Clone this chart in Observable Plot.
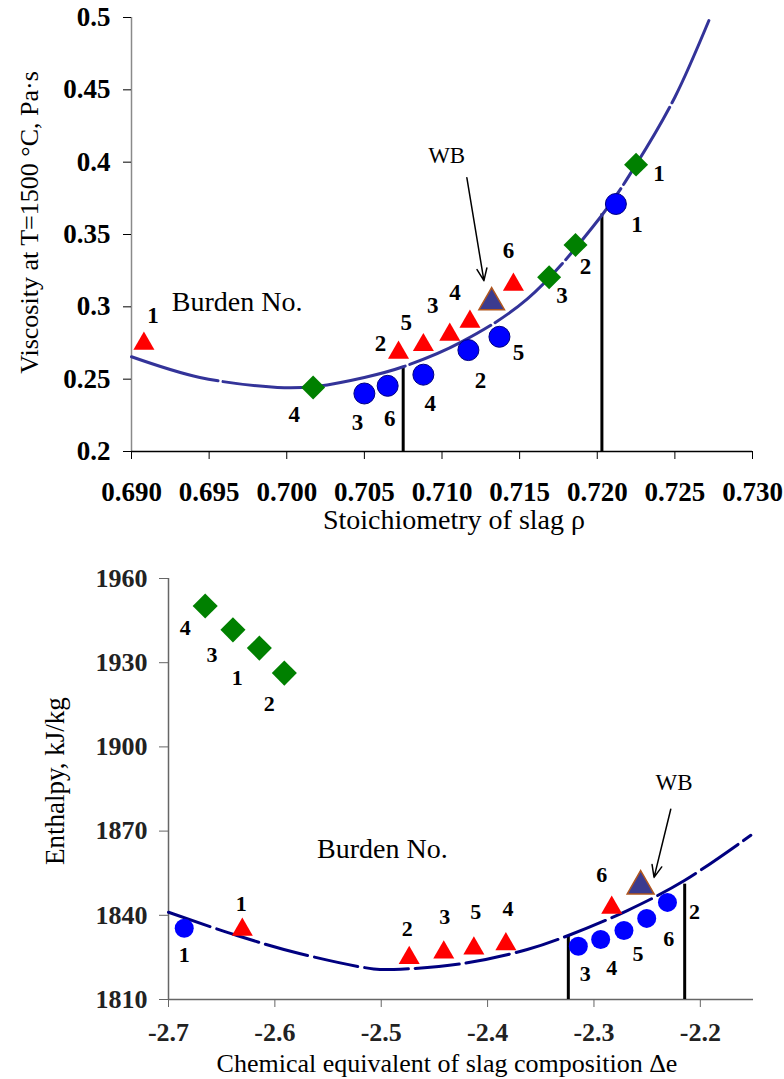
<!DOCTYPE html>
<html>
<head>
<meta charset="utf-8">
<script src="https://cdn.jsdelivr.net/npm/d3@7"></script>
<script src="https://cdn.jsdelivr.net/npm/@observablehq/plot@0.6"></script>
<style>
  html, body { margin: 0; padding: 0; background: #fff; }
  #chart { width: 784px; }
  #chart svg { display: block; }
</style>
</head>
<body>
<div id="chart"></div>
<script>
// ================= TOP PANEL: viscosity vs stoichiometry of slag =================
const vXTicks = [0.690, 0.695, 0.700, 0.705, 0.710, 0.715, 0.720, 0.725, 0.730];
const vXTickLabels = ["0.690", "0.695", "0.700", "0.705", "0.710", "0.715", "0.720", "0.725", "0.730"];
const vYTicks = [0.2, 0.25, 0.3, 0.35, 0.4, 0.45, 0.5];
const vYTickLabels = ["0.2", "0.25", "0.3", "0.35", "0.4", "0.45", "0.5"];

// red triangles
const vTriNo   = ["1", "2", "5", "3", "4", "6"];
const vTriRho  = [0.6908, 0.7072, 0.7088, 0.7105, 0.7118, 0.7146];
const vTriVisc = [0.2745, 0.2683, 0.2736, 0.2807, 0.2897, 0.3153];
// blue circles
const vCirNo   = ["3", "6", "4", "2", "5", "1"];
const vCirRho  = [0.7050, 0.7065, 0.7088, 0.7117, 0.7137, 0.7212];
const vCirVisc = [0.2401, 0.2454, 0.2531, 0.2701, 0.2793, 0.3711];
// green diamonds
const vDiaNo   = ["4", "3", "2", "1"];
const vDiaRho  = [0.7017, 0.7169, 0.7186, 0.7225];
const vDiaVisc = [0.2443, 0.3204, 0.3428, 0.3983];
// working burden (WB)
const vWBRho  = [0.7132];
const vWBVisc = [0.3031];
// fitted trend curve
const vFitRho  = [0.6900, 0.6944, 0.6994, 0.7017, 0.7050, 0.7075, 0.7112, 0.7155, 0.7202, 0.7225, 0.7250, 0.7273];
const vFitVisc = [0.2655, 0.2512, 0.2443, 0.2448, 0.2512, 0.2586, 0.2754, 0.3055, 0.3619, 0.3983, 0.4449, 0.5007];
// vertical range lines
const vVLineRho  = [0.7075, 0.7203];
const vVLineTop  = [0.2586, 0.3642];
// annotation anchors (data units)
const vWBText   = [0.7103, 0.4045];
const vWBArrow  = [0.7116, 0.3893, 0.7127, 0.3181];
const vBurden   = [0.6926, 0.3031];

// ================= BOTTOM PANEL: enthalpy vs chemical equivalent =================
const eXTicks = [-2.7, -2.6, -2.5, -2.4, -2.3, -2.2];
const eXTickLabels = ["-2.7", "-2.6", "-2.5", "-2.4", "-2.3", "-2.2"];
const eYTicks = [1810, 1840, 1870, 1900, 1930, 1960];
const eYTickLabels = ["1810", "1840", "1870", "1900", "1930", "1960"];

const eTriNo = ["1", "2", "3", "5", "4", "6"];
const eTriDe = [-2.6306, -2.4737, -2.4412, -2.4129, -2.3828, -2.2833];
const eTriH  = [1834.9, 1824.8, 1826.8, 1828.2, 1829.7, 1842.7];
const eCirNo = ["1", "3", "4", "5", "6", "2"];
const eCirDe = [-2.6852, -2.3147, -2.2937, -2.2718, -2.2504, -2.2309];
const eCirH  = [1835.4, 1829.0, 1831.4, 1834.6, 1838.9, 1844.6];
const eDiaNo = ["4", "3", "1", "2"];
const eDiaDe = [-2.6655, -2.6394, -2.6146, -2.5911];
const eDiaH  = [1950.2, 1941.7, 1935.2, 1926.3];
const eWBDe = [-2.2561];
const eWBH  = [1850.4];
const eFitDe = [-2.7000, -2.6356, -2.5760, -2.5071, -2.4882, -2.4255, -2.3627, -2.3241, -2.2686, -2.2153, -2.1525];
const eFitH  = [1841.1, 1832.8, 1826.3, 1820.9, 1820.7, 1822.7, 1827.8, 1832.8, 1841.7, 1852.3, 1868.5];
const eVLineDe  = [-2.3241, -2.2147];
const eVLineTop = [1832.8, 1851.1];
const eWBText  = [-2.2247, 1887.4];
const eWBArrow = [-2.2278, 1877.8, -2.2435, 1853.5];
const eBurden  = [-2.5603, 1863.6];

// ================= styles =================
const serif = "Liberation Serif, Times New Roman, serif";
const RED = "#ff0000", BLUE = "#0000ff", GREEN = "#008000";

// label offsets (pixels) for the burden numbers
const vTriOff = [[9,-28],[-18,-9],[-17,-22],[-17,-29],[-15,-29],[-5,-34]];
const vCirOff = [[-7,29],[2,33],[7,29],[12,31],[19,16],[21,21]];
const vDiaOff = [[-19,27],[13,18],[10,22],[23,9]];
const eTriOff = [[-1,-26],[-2,-29],[1,-35],[2,-36],[2,-35],[-10,-33]];
const eCirOff = [[0,27],[7,28],[11,29],[14,23],[22,21],[27,10]];
const eDiaOff = [[-20,22],[-21,25],[-22,30],[-15,31]];

function rows(xs, ys) { return xs.map((x, i) => ({x, y: ys[i]})); }

function numberLabels(xs, ys, names, offs, size) {
  return names.map((t, i) => Plot.text([t], {
    x: () => xs[i], y: () => ys[i], text: d => d,
    dx: offs[i][0], dy: offs[i][1],
    fontFamily: serif, fontWeight: "bold", fontSize: size, fill: "black"
  }));
}

function lookup(ticks, labels) {
  const m = new Map(ticks.map((t, i) => [t, labels[i]]));
  return d => m.get(d);
}

function title(str, opts) {
  return Plot.text([str], {text: d => d, textAnchor: "middle", lineAnchor: "middle",
    fontFamily: serif, fill: "black", ...opts});
}

// ---------------- top plot ----------------
const topPlot = Plot.plot({
  width: 784, height: 535,
  marginLeft: 131, marginRight: 32, marginTop: 17, marginBottom: 84,
  x: {domain: [0.690, 0.730]},
  y: {domain: [0.2, 0.5]},
  style: {fontFamily: serif, background: "#fff", color: "black", overflow: "visible"},
  marks: [
    Plot.ruleX([0.690], {stroke: "#8a8a8a", strokeWidth: 1.5}),
    Plot.ruleY([0.2], {stroke: "#000", strokeWidth: 1.3}),
    Plot.axisX(vXTicks, {tickSize: 8, tickPadding: 22, tickFormat: lookup(vXTicks, vXTickLabels),
      fontFamily: serif, fontWeight: "bold", fontSize: 27, label: null, color: "black"}),
    Plot.axisY(vYTicks, {tickSize: 8, tickPadding: 13, tickFormat: lookup(vYTicks, vYTickLabels),
      fontFamily: serif, fontWeight: "bold", fontSize: 27, label: null, color: "black"}),
    Plot.ruleX(rows(vVLineRho, vVLineTop), {x: "x", y1: () => 0.2, y2: "y", stroke: "black", strokeWidth: 3}),
    Plot.line(rows(vFitRho, vFitVisc), {x: "x", y: "y", curve: "catmull-rom", stroke: "#333399",
      strokeWidth: 3, strokeDasharray: "90,5"}),
    Plot.dot(rows(vCirRho, vCirVisc), {x: "x", y: "y", symbol: "circle", r: 10.5, fill: BLUE, stroke: "#000080", strokeWidth: 1}),
    Plot.dot(rows(vDiaRho, vDiaVisc), {x: "x", y: "y", symbol: "diamond2", r: 10.8, fill: GREEN}),
    Plot.dot(rows(vTriRho, vTriVisc), {x: "x", y: "y", symbol: "triangle", r: 7.8, fill: RED}),
    Plot.dot(rows(vWBRho, vWBVisc), {x: "x", y: "y", symbol: "triangle", r: 9.5, fill: "#3b3b8f", stroke: "#b0561e", strokeWidth: 1.5}),
    ...numberLabels(vTriRho, vTriVisc, vTriNo, vTriOff, 23),
    ...numberLabels(vCirRho, vCirVisc, vCirNo, vCirOff, 23),
    ...numberLabels(vDiaRho, vDiaVisc, vDiaNo, vDiaOff, 23),
    Plot.text(["WB"], {x: () => vWBText[0], y: () => vWBText[1], text: d => d, fontFamily: serif, fontSize: 23, fill: "black"}),
    Plot.arrow([vWBArrow], {x1: d => d[0], y1: d => d[1], x2: d => d[2], y2: d => d[3],
      stroke: "black", strokeWidth: 1.5, headLength: 13, headAngle: 45}),
    Plot.text(["Burden No."], {x: () => vBurden[0], y: () => vBurden[1], text: d => d, textAnchor: "start",
      fontFamily: serif, fontSize: 28, fill: "black"}),
    title("Stoichiometry of slag ρ", {frameAnchor: "bottom", dx: 12, dy: 69, fontSize: 28}),
    title("Viscosity at T=1500 °C, Pa·s", {frameAnchor: "left", rotate: -90, dx: -102, dy: -12, fontSize: 26})
  ]
});

// ---------------- bottom plot ----------------
const bottomPlot = Plot.plot({
  width: 784, height: 544,
  marginLeft: 168, marginRight: 31, marginTop: 43, marginBottom: 80,
  x: {domain: [-2.7, -2.15]},
  y: {domain: [1810, 1960]},
  style: {fontFamily: serif, background: "#fff", color: "black", overflow: "visible"},
  marks: [
    Plot.ruleX([-2.7], {stroke: "#666", strokeWidth: 1.5}),
    Plot.ruleY([1810], {stroke: "#666", strokeWidth: 1.5}),
    Plot.axisX(eXTicks, {tickSize: 8, tickPadding: 15, tickFormat: lookup(eXTicks, eXTickLabels),
      fontFamily: serif, fontWeight: "bold", fontSize: 26, label: null, color: "#222", stroke: "#666"}),
    Plot.axisY(eYTicks, {tickSize: 9, tickPadding: 12, tickFormat: lookup(eYTicks, eYTickLabels),
      fontFamily: serif, fontWeight: "bold", fontSize: 26, label: null, color: "#222", stroke: "#666"}),
    Plot.ruleX(rows(eVLineDe, eVLineTop), {x: "x", y1: () => 1810, y2: "y", stroke: "black", strokeWidth: 3}),
    Plot.line(rows(eFitDe, eFitH), {x: "x", y: "y", curve: "catmull-rom", stroke: "#000080",
      strokeWidth: 3, strokeDasharray: "44,7"}),
    Plot.dot(rows(eCirDe, eCirH), {x: "x", y: "y", symbol: "circle", r: 9.5, fill: BLUE}),
    Plot.dot(rows(eDiaDe, eDiaH), {x: "x", y: "y", symbol: "diamond2", r: 11.3, fill: GREEN}),
    Plot.dot(rows(eTriDe, eTriH), {x: "x", y: "y", symbol: "triangle", r: 7.8, fill: RED}),
    Plot.dot(rows(eWBDe, eWBH), {x: "x", y: "y", symbol: "triangle", r: 10, fill: "#3b3b8f", stroke: "#b0561e", strokeWidth: 1.5}),
    ...numberLabels(eTriDe, eTriH, eTriNo, eTriOff, 22),
    ...numberLabels(eCirDe, eCirH, eCirNo, eCirOff, 22),
    ...numberLabels(eDiaDe, eDiaH, eDiaNo, eDiaOff, 22),
    Plot.text(["WB"], {x: () => eWBText[0], y: () => eWBText[1], text: d => d, fontFamily: serif, fontSize: 23, fill: "black"}),
    Plot.arrow([eWBArrow], {x1: d => d[0], y1: d => d[1], x2: d => d[2], y2: d => d[3],
      stroke: "black", strokeWidth: 1.5, headLength: 13, headAngle: 45}),
    Plot.text(["Burden No."], {x: () => eBurden[0], y: () => eBurden[1], text: d => d, textAnchor: "start",
      fontFamily: serif, fontSize: 28, fill: "black"}),
    title("Chemical equivalent of slag composition Δe", {frameAnchor: "bottom", dx: -14, dy: 64, fontSize: 26}),
    title("Enthalpy, kJ/kg", {frameAnchor: "left", rotate: -90, dx: -113, dy: -8, fontSize: 27})
  ]
});

document.getElementById("chart").append(topPlot, bottomPlot);
</script>
</body>
</html>
